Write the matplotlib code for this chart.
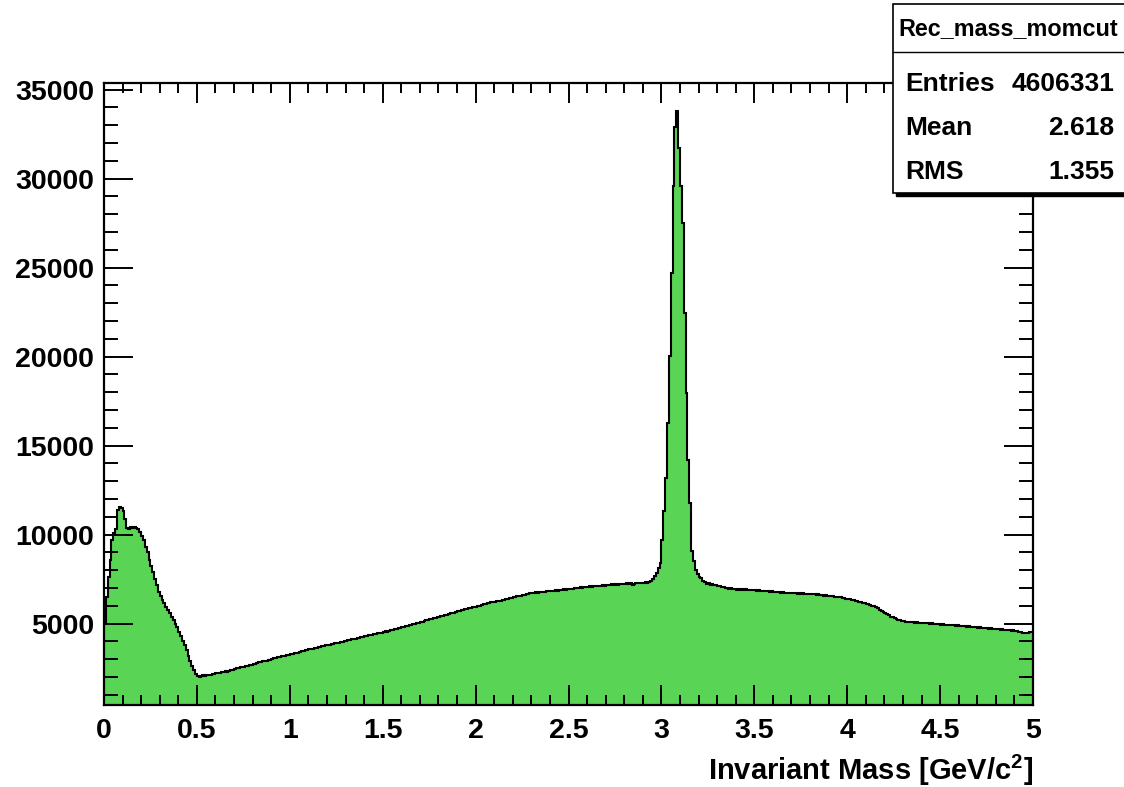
import numpy as np
import matplotlib
matplotlib.use("Agg")
from matplotlib import pyplot as plt
from matplotlib.patches import Rectangle
from matplotlib.ticker import MultipleLocator

# bin contents, 0.01 GeV/c^2 bins from 0 to 5
counts = [
    5000, 6500, 7600, 8600, 9700, 10100, 10300, 11400, 11550, 11500,
    11350, 10900, 10400, 10300, 10450, 10400, 10450, 10350, 10300, 10150,
    9950, 9700, 9300, 9000, 8600, 8250, 7900, 7500, 7150, 6800,
    6550, 6350, 6150, 5950, 5780, 5600, 5400, 5200, 5000, 4800,
    4550, 4300, 4050, 3800, 3500, 3200, 2900, 2650, 2400, 2200,
    2050, 2020, 2070, 2090, 2060, 2110, 2140, 2120, 2170, 2180,
    2210, 2240, 2220, 2270, 2300, 2320, 2300, 2360, 2390, 2420,
    2460, 2490, 2500, 2540, 2560, 2580, 2620, 2640, 2690, 2700,
    2740, 2760, 2790, 2830, 2840, 2890, 2900, 2930, 2970, 2980,
    3000, 3050, 3060, 3100, 3110, 3160, 3170, 3200, 3250, 3240,
    3270, 3310, 3330, 3380, 3370, 3420, 3450, 3470, 3520, 3530,
    3550, 3590, 3600, 3650, 3640, 3690, 3710, 3720, 3770, 3780,
    3800, 3820, 3860, 3850, 3900, 3930, 3920, 3980, 3990, 4010,
    4050, 4070, 4060, 4120, 4140, 4150, 4200, 4190, 4240, 4270,
    4300, 4290, 4340, 4370, 4360, 4400, 4430, 4450, 4480, 4500,
    4530, 4570, 4560, 4610, 4640, 4620, 4680, 4710, 4730, 4760,
    4800, 4820, 4860, 4880, 4900, 4950, 4960, 5000, 5030, 5050,
    5080, 5120, 5130, 5180, 5200, 5240, 5250, 5300, 5330, 5350,
    5380, 5420, 5440, 5490, 5510, 5530, 5580, 5600, 5620, 5670,
    5700, 5720, 5760, 5780, 5800, 5850, 5870, 5890, 5940, 5940,
    5960, 6000, 6010, 6060, 6080, 6100, 6140, 6150, 6200, 6190,
    6220, 6260, 6280, 6290, 6340, 6350, 6380, 6400, 6450, 6440,
    6480, 6500, 6540, 6550, 6580, 6610, 6620, 6670, 6680, 6700,
    6730, 6720, 6760, 6740, 6780, 6770, 6800, 6790, 6830, 6810,
    6820, 6860, 6840, 6880, 6860, 6900, 6890, 6930, 6910, 6950,
    6940, 6970, 6960, 7000, 6980, 7010, 7040, 7020, 7060, 7040,
    7050, 7090, 7070, 7100, 7120, 7090, 7140, 7130, 7160, 7140,
    7160, 7190, 7170, 7210, 7180, 7220, 7200, 7240, 7210, 7230,
    7230, 7260, 7240, 7270, 7180, 7250, 7290, 7260, 7300, 7280,
    7300, 7330, 7310, 7360, 7420, 7500, 7650, 7850, 8100, 8410,
    9720, 11310, 13190, 16280, 20020, 24700, 29570, 32900, 33780, 31720,
    29570, 27510, 22450, 17960, 14210, 11780, 9060, 8500, 8030, 7800,
    7620, 7550, 7400, 7320, 7250, 7280, 7190, 7220, 7150, 7180,
    7100, 7130, 7050, 7070, 6990, 7020, 6960, 6980, 6920, 6950,
    6910, 6940, 6900, 6930, 6880, 6920, 6890, 6910, 6870, 6900,
    6880, 6850, 6870, 6840, 6860, 6820, 6830, 6850, 6800, 6810,
    6780, 6800, 6760, 6790, 6740, 6760, 6720, 6750, 6710, 6730,
    6720, 6700, 6730, 6690, 6710, 6680, 6700, 6660, 6690, 6650,
    6670, 6640, 6650, 6620, 6640, 6600, 6620, 6580, 6590, 6560,
    6570, 6530, 6540, 6500, 6510, 6470, 6480, 6440, 6450, 6410,
    6380, 6360, 6340, 6310, 6290, 6260, 6240, 6200, 6180, 6150,
    6130, 6100, 6060, 6020, 5980, 5930, 5860, 5790, 5720, 5640,
    5580, 5520, 5460, 5400, 5350, 5300, 5260, 5220, 5180, 5160,
    5140, 5120, 5100, 5110, 5080, 5090, 5060, 5070, 5040, 5060,
    5030, 5050, 5010, 5030, 4990, 5010, 4980, 5000, 4960, 4980,
    4950, 4970, 4930, 4950, 4910, 4940, 4900, 4920, 4880, 4900,
    4870, 4890, 4850, 4870, 4830, 4850, 4810, 4840, 4790, 4820,
    4780, 4800, 4760, 4780, 4740, 4760, 4720, 4740, 4700, 4720,
    4690, 4710, 4660, 4680, 4640, 4660, 4620, 4640, 4600, 4620,
    4580, 4600, 4540, 4520, 4480, 4500, 4460, 4480, 4520, 4560,
]
x_lo, x_hi = 0.0, 5.0
hist_name = "Rec_mass_momcut"
stats_labels = ["Entries", "Mean", "RMS"]
stats_values = ["4606331", "2.618", "1.355"]
x_title = "Invariant Mass [GeV/c$^{\\mathbf{2}}$]"

plt.rcParams['font.family'] = ['Liberation Sans', 'DejaVu Sans']
plt.rcParams['font.weight'] = 'bold'
plt.rcParams['mathtext.fontset'] = 'custom'
plt.rcParams['mathtext.bf'] = 'Liberation Sans:bold'

W, H = 1124, 787
PX = 72 / 100  # points per pixel
fig = plt.figure(figsize=(W / 100, H / 100), dpi=100)
ax = fig.add_axes([104 / W, 1 - 705 / H, (1033 - 104) / W, (705 - 83) / H])

edges = np.linspace(x_lo, x_hi, len(counts) + 1)
vals = np.array(counts, dtype=float)
ax.stairs(vals, edges, fill=True, color='#59d454', baseline=0)
ax.stairs(vals, edges, color='black', lw=1.5, baseline=None)

# ROOT-like y range: 5% margins around min/max
ymin, ymax = vals.min(), vals.max()
pad = 0.05 * (ymax - ymin)
ax.set_xlim(x_lo, x_hi)
ax.set_ylim(ymin - pad, ymax + pad)

ax.xaxis.set_major_locator(MultipleLocator(0.5))
ax.xaxis.set_minor_locator(MultipleLocator(0.1))
ax.yaxis.set_major_locator(MultipleLocator(5000))
ax.yaxis.set_minor_locator(MultipleLocator(1000))
ax.xaxis.set_major_formatter(plt.FuncFormatter(lambda v, p: f"{v:g}"))
ax.tick_params(which='both', direction='in', top=True, right=True,
               width=1.4, labelsize=20.5, colors='black')
ax.tick_params(axis='x', which='major', length=20 * PX, pad=9)
ax.tick_params(axis='x', which='minor', length=10 * PX)
ax.tick_params(axis='y', which='major', length=29 * PX, pad=7)
ax.tick_params(axis='y', which='minor', length=14 * PX)
for lab in ax.get_xticklabels() + ax.get_yticklabels():
    lab.set_fontweight('bold')
for s in ax.spines.values():
    s.set_linewidth(1.6)

fig.text(1033 / W, 1 - 770 / H, x_title, ha='right', va='center',
         fontsize=21, fontweight='bold')

# stats box with shadow
bx0, by0, bx1, by1 = 893, 4, 1130, 193
sh = 3
fig.patches.append(Rectangle(((bx0 + sh) / W, 1 - (by1 + sh) / H),
                             (bx1 - bx0) / W, (by1 - by0) / H,
                             transform=fig.transFigure, facecolor='black',
                             edgecolor='black', zorder=5))
fig.patches.append(Rectangle((bx0 / W, 1 - by1 / H), (bx1 - bx0) / W,
                             (by1 - by0) / H, transform=fig.transFigure,
                             facecolor='white', edgecolor='black', lw=1.2,
                             zorder=6))
fig.add_artist(plt.Line2D([bx0 / W, 1], [1 - 52 / H, 1 - 52 / H],
                          transform=fig.transFigure, color='black', lw=1.0,
                          zorder=7))
fig.text(1008 / W, 1 - 29 / H, hist_name, ha='center', va='center',
         fontsize=16.8, fontweight='bold', zorder=8)
for i, (lab, val) in enumerate(zip(stats_labels, stats_values)):
    yy = 1 - (84 + 44 * i) / H
    fig.text(905 / W, yy, lab, ha='left', va='center', fontsize=19,
             fontweight='bold', zorder=8)
    fig.text(1114 / W, yy, val, ha='right', va='center', fontsize=19,
             fontweight='bold', zorder=8)

fig.savefig('out.png', dpi=100)
